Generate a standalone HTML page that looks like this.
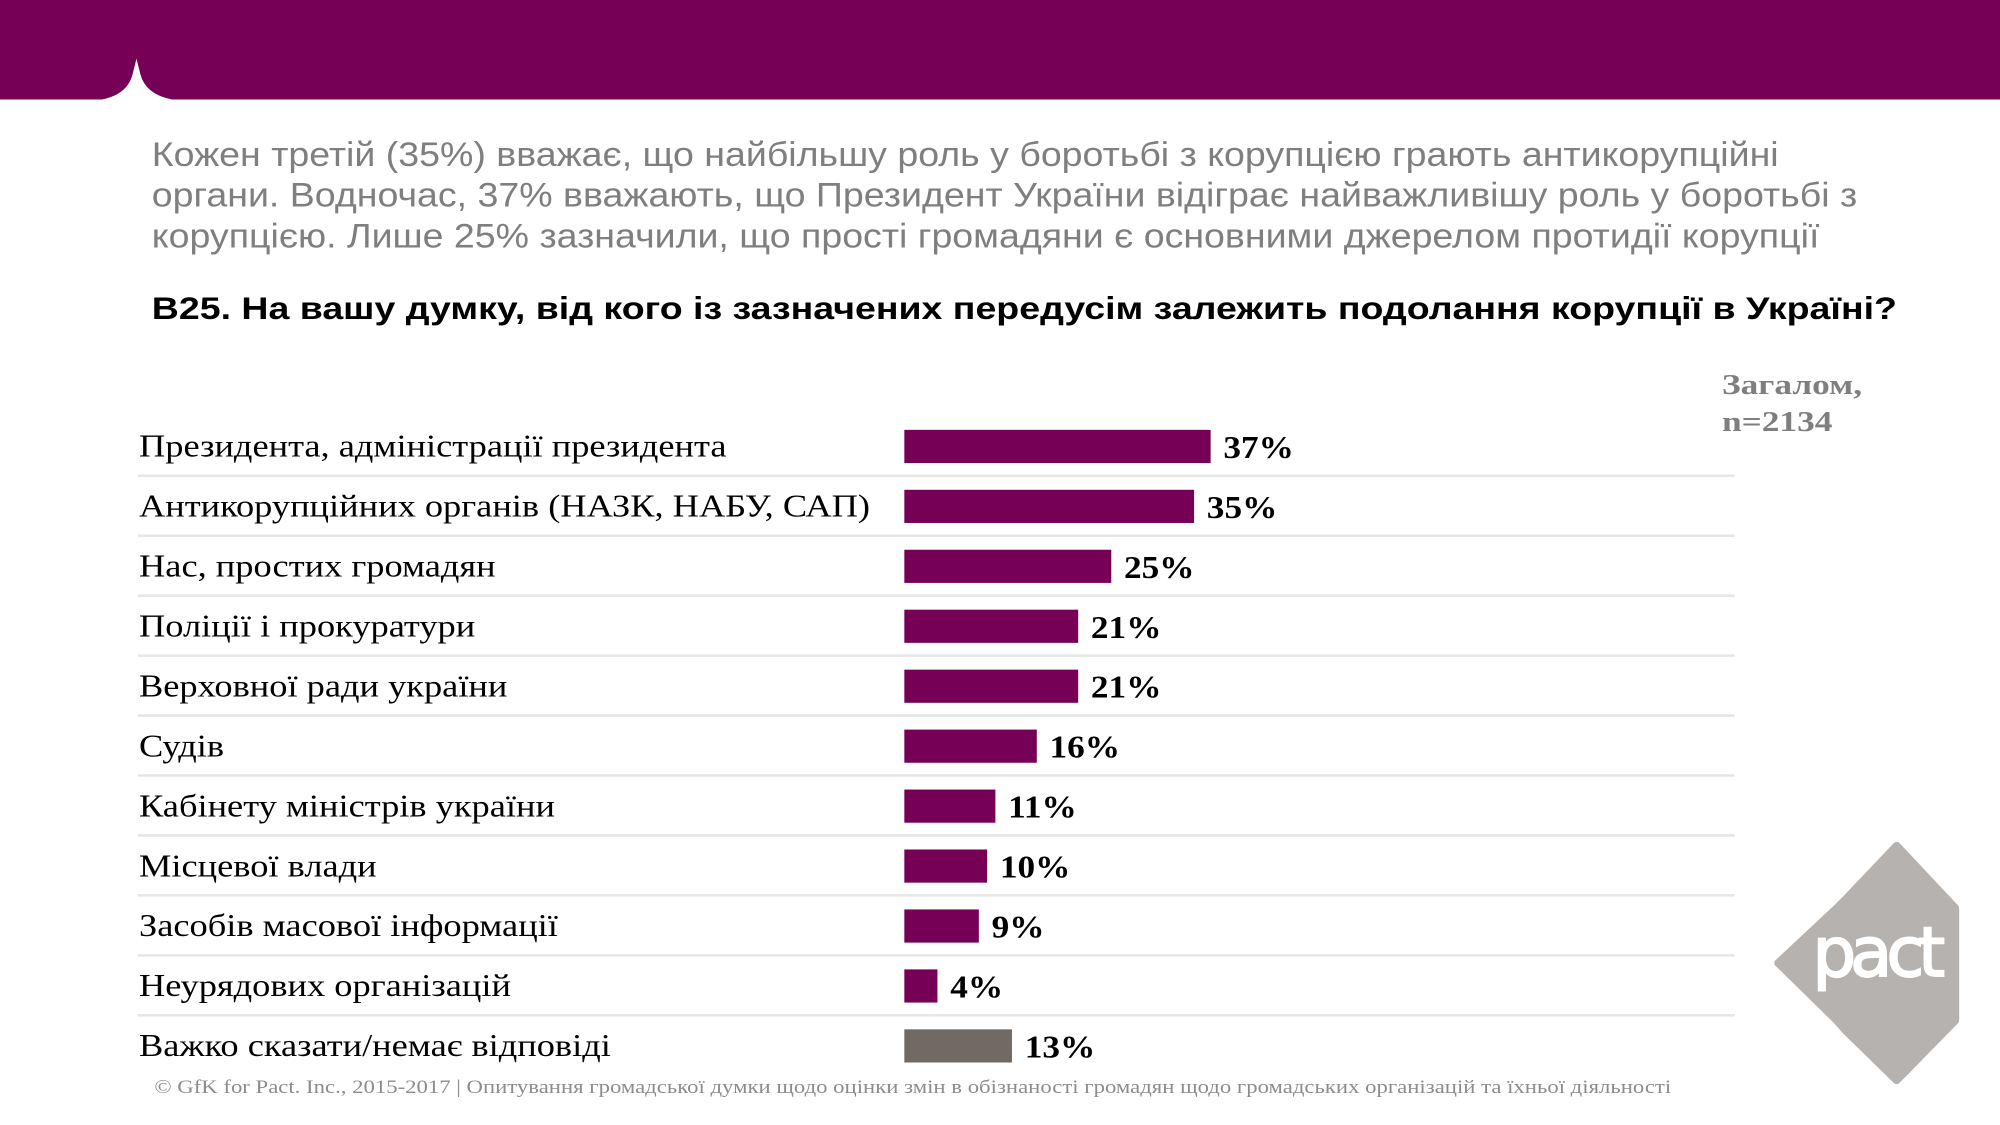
<!DOCTYPE html>
<html><head><meta charset="utf-8"><style>
html,body{margin:0;padding:0;background:#fff;overflow:hidden}
#wrap{width:2000px;height:1125px;overflow:hidden;position:relative}
#s{width:1568px;height:882px;position:absolute;left:0;top:0;transform:scale(1.27551);transform-origin:0 0}
.sum{position:absolute;left:119px;top:105px;font-family:"Liberation Sans",sans-serif;font-size:26.5px;line-height:32px;color:#7f7f7f;white-space:nowrap;transform:scaleX(1.11);transform-origin:0 0}
.q{position:absolute;left:119px;top:228px;font-family:"Liberation Sans",sans-serif;font-weight:bold;font-size:25px;color:#000;white-space:nowrap;transform:scaleX(1.176);transform-origin:0 0}
.tot{position:absolute;left:1350px;top:287px;font-family:"Liberation Serif",serif;font-weight:bold;font-size:22px;line-height:29px;color:#7f7f7f;transform:scaleX(1.26);transform-origin:0 0}
.foot{position:absolute;left:121px;top:845px;font-family:"Liberation Serif",serif;font-size:15px;color:#8c8c8c;white-space:nowrap;transform:scaleX(1.188);transform-origin:0 0}
</style></head><body>
<div id="wrap"><div id="s">
<svg width="1568" height="882" style="position:absolute;left:0;top:0">
<rect x="0" y="0" width="1568" height="78" fill="#750056"/>
<path d="M80 78 Q100 74 104 58 L107 46 L110 58 Q114 74 135 78 Z" fill="#fff"/>
<g id="chart"></g>
<g>
<polygon points="1487,663 1533,712 1533,800 1487,847 1447,808 1440,800 1394,755 1440,712 1447,705" fill="#b5b2b0" stroke="#b5b2b0" stroke-width="6" stroke-linejoin="round"/>
<text x="1421" y="765" font-family="DejaVu Sans, Liberation Sans, sans-serif" font-size="54" fill="#fff" stroke="#fff" stroke-width="1.5" textLength="104">pact</text>
</g>
</svg>
<div class="sum">Кожен третій (35%) вважає, що найбільшу роль у боротьбі з корупцією грають антикорупційні<br>органи. Водночас, 37% вважають, що Президент України відіграє найважливішу роль у боротьбі з<br>корупцією. Лише 25% зазначили, що прості громадяни є основними джерелом протидії корупції</div>
<div class="q">B25. На вашу думку, від кого із зазначених передусім залежить подолання корупції в Україні?</div>
<div class="tot">Загалом,<br>n=2134</div>
<div class="foot">© GfK for Pact. Inc., 2015-2017 | Опитування громадської думки щодо оцінки змін в обізнаності громадян щодо громадських організацій та їхньої діяльності</div>
</div></div>
<script>
const categories=["Президента, адміністрації президента","Антикорупційних органів (НАЗК, НАБУ, САП)","Нас, простих громадян","Поліції і прокуратури","Верховної ради україни","Судів","Кабінету міністрів україни","Місцевої влади","Засобів масової інформації","Неурядових організацій","Важко сказати/немає відповіді"];
const values=[37,35,25,21,21,16,11,10,9,4,13];
const valueLabels=["37%","35%","25%","21%","21%","16%","11%","10%","9%","4%","13%"];
const NS="http://www.w3.org/2000/svg";
const g=document.getElementById('chart');
const x0=709, pxPer=6.49, y0=350, step=47, barH=26;
function xs(v){return x0+v*pxPer;}
function yc(i){return y0+i*step;}
function mk(t,a){const e=document.createElementNS(NS,t);for(const k in a)e.setAttribute(k,a[k]);g.appendChild(e);return e;}
function stretch(el,f){const w=el.getComputedTextLength();el.setAttribute('textLength',(w*f).toFixed(1));el.setAttribute('lengthAdjust','spacingAndGlyphs');}
categories.forEach((c,i)=>{
  const y=yc(i);
  if(i<categories.length-1){
    const ln=mk('line',{x1:108,x2:1360,y1:y+23,y2:y+23,stroke:'#e6e6e6','stroke-width':2});
    
    
  }
  const lb=mk('text',{x:109,y:y+8,'font-family':'Liberation Serif, serif','font-size':24.5,fill:'#000'});
  lb.textContent=c;
  
  
  stretch(lb,1.165);
  const r=mk('rect',{x:x0,y:y-barH/2,width:xs(values[i])-x0,height:barH,fill:i===categories.length-1?'#716963':'#750056'});
  
  
  const vt=mk('text',{x:xs(values[i])+10,y:y+9,'font-family':'Liberation Serif, serif','font-size':24.5,'font-weight':'bold',fill:'#000'});
  vt.textContent=valueLabels[i];
  
  
  stretch(vt,1.13);
});
</script>
</body></html>
